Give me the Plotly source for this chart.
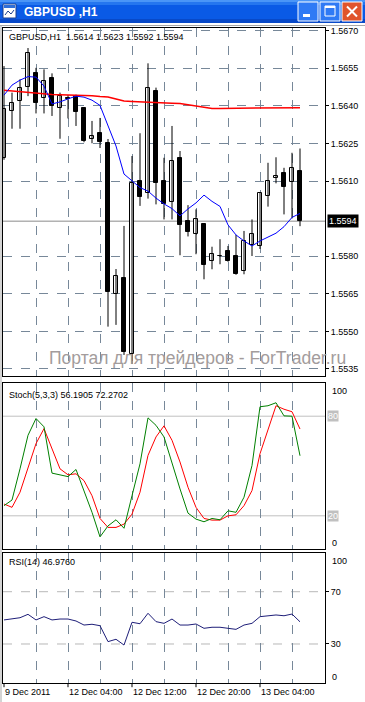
import plotly.graph_objects as go

# ---------------- data ----------------
opens  = [1.56191, 1.56378, 1.56418, 1.56477, 1.56530, 1.56431, 1.56510, 1.56390, 1.56432, 1.56441,
          1.56392, 1.56269, 1.56291, 1.56253, 1.55648, 1.55712, 1.55409, 1.56100, 1.56054, 1.56459,
          1.56100, 1.56018, 1.56191, 1.55941, 1.55888, 1.55928, 1.55781, 1.55802, 1.55821, 1.55801,
          1.55741, 1.55845, 1.55841, 1.56040, 1.56111, 1.56132, 1.56098, 1.5614]
highs  = [1.56559, 1.56453, 1.56506, 1.56631, 1.56552, 1.56546, 1.56530, 1.56453, 1.56443, 1.56445,
          1.56395, 1.56340, 1.56352, 1.56268, 1.55749, 1.55921, 1.56200, 1.56291, 1.56570, 1.56473,
          1.56193, 1.56320, 1.56220, 1.56004, 1.55987, 1.55930, 1.55838, 1.55868, 1.55841, 1.55885,
          1.55901, 1.55947, 1.56055, 1.56173, 1.56195, 1.56153, 1.56213, 1.5623]
lows   = [1.56185, 1.56309, 1.56309, 1.56439, 1.56370, 1.56370, 1.56360, 1.56269, 1.56350, 1.56320,
          1.56255, 1.56251, 1.56232, 1.55519, 1.55526, 1.55406, 1.55370, 1.56001, 1.56030, 1.56007,
          1.55947, 1.55947, 1.55804, 1.55879, 1.55808, 1.55708, 1.55748, 1.55768, 1.55778, 1.55726,
          1.55728, 1.55801, 1.55829, 1.55998, 1.56091, 1.55967, 1.55951, 1.5592]
closes = [1.56389, 1.56410, 1.56471, 1.56610, 1.56410, 1.56498, 1.56400, 1.56439, 1.56428, 1.56377,
          1.56259, 1.56279, 1.56257, 1.55659, 1.55721, 1.55419, 1.56092, 1.56038, 1.56473, 1.56094,
          1.56010, 1.56180, 1.55925, 1.55898, 1.55947, 1.55767, 1.55808, 1.55800, 1.55781, 1.55728,
          1.55861, 1.55888, 1.56051, 1.56100, 1.56120, 1.56078, 1.56153, 1.5594]

ma_slow = [1.56463, 1.56460, 1.56457, 1.56455, 1.56452, 1.56448, 1.56446, 1.56445, 1.56444, 1.56443,
           1.56443, 1.56441, 1.56438, 1.56436, 1.56428, 1.56420, 1.56418, 1.56416, 1.56415, 1.56414,
           1.56412, 1.56411, 1.56410, 1.56405, 1.56401, 1.56395, 1.56390, 1.56390, 1.56390, 1.56390,
           1.56390, 1.56390, 1.56390, 1.56390, 1.56392, 1.56393, 1.56393, 1.56393]
ma_fast = [1.56443, 1.56483, 1.56503, 1.56517, 1.56515, 1.56479, 1.56408, 1.56416, 1.56428, 1.56439,
           1.56435, 1.56423, 1.56402, 1.56320, 1.56240, 1.56128, 1.56100, 1.56074, 1.56060, 1.56032,
           1.56009, 1.55990, 1.55961, 1.55989, 1.56013, 1.56044, 1.56019, 1.55999, 1.55925, 1.55885,
           1.55861, 1.55841, 1.55861, 1.55878, 1.55892, 1.55918, 1.55955, 1.55971]

stoch_k = [26.1, 29.5, 48.3, 68.5, 78.6, 73.6, 45.7, 44.7, 43.6, 47.9, 35.2, 22.1, 7.3, 13.9, 17.6,
           12.5, 32.1, 51.3, 79.0, 74.5, 67.5, 51.3, 36.2, 21.6, 18.0, 16.4, 18.4, 17.6, 23.0, 22.1,
           31.2, 50.3, 85.7, 86.3, 88.1, 80.2, 80.0, 56.1905]
stoch_d = [27.1, 25.1, 34.2, 48.3, 63.5, 72.5, 60.4, 48.3, 44.7, 45.3, 41.2, 32.1, 18.4, 13.0, 13.0,
           15.0, 21.0, 34.2, 56.4, 67.5, 74.2, 65.5, 52.4, 37.2, 25.1, 18.4, 17.4, 17.4, 20.0, 20.6,
           26.1, 35.2, 57.4, 72.5, 86.3, 84.2, 82.7, 72.2702]
rsi = [48.4, 49.1, 50.1, 52.7, 48.4, 50.9, 48.4, 49.1, 49.1, 47.6, 44.5, 45.1, 44.0, 31.8, 33.6,
       29.2, 46.6, 45.5, 53.5, 47.1, 45.8, 49.1, 44.5, 44.5, 45.3, 42.0, 42.8, 42.8, 42.0, 41.2,
       44.5, 45.8, 50.9, 51.6, 52.2, 51.6, 52.9, 46.976]

time_labels = ["9 Dec 2011", "12 Dec 04:00", "12 Dec 12:00", "12 Dec 20:00", "13 Dec 04:00"]
time_label_bars = [0, 8, 16, 24, 32]
grid_bars = [4, 8, 12, 16, 20, 24, 28, 32, 36]
price_ticks = [1.5535, 1.5550, 1.5565, 1.5580, 1.5610, 1.5625, 1.5640, 1.5655, 1.5670]
last_price = 1.5594
stoch_levels = [80, 20]
rsi_levels = [70, 30]

# ---------------- layout helpers ----------------
W, H = 365, 702
def py(p):
    return 1 - p / H
def px(p):
    return p / W

bars = list(range(len(opens)))
GRID = "#778899"
FONT = "Liberation Sans"

fig = go.Figure()

# wicks
wx, wy = [], []
for i, (h, l) in enumerate(zip(highs, lows)):
    wx += [i, i, None]
    wy += [l, h, None]
fig.add_trace(go.Scatter(x=wx, y=wy, mode="lines", line=dict(color="black", width=1),
                         xaxis="x", yaxis="y", hoverinfo="skip", showlegend=False))
# bodies
base = [min(o, c) for o, c in zip(opens, closes)]
hgt = [max(abs(c - o), 0.000006) for o, c in zip(opens, closes)]
cols = ["white" if c >= o else "black" for o, c in zip(opens, closes)]
fig.add_trace(go.Bar(x=bars, y=hgt, base=base, width=0.5,
                     marker=dict(color=cols, line=dict(color="black", width=1)),
                     xaxis="x", yaxis="y", showlegend=False, hoverinfo="skip"))
# moving averages
fig.add_trace(go.Scatter(x=bars, y=ma_slow, mode="lines", line=dict(color="#FF0000", width=1.5),
                         xaxis="x", yaxis="y", showlegend=False))
fig.add_trace(go.Scatter(x=bars, y=ma_fast, mode="lines", line=dict(color="#0000FF", width=1),
                         xaxis="x", yaxis="y", showlegend=False))
# stochastic
fig.add_trace(go.Scatter(x=bars, y=stoch_d, mode="lines", line=dict(color="#FF0000", width=1),
                         xaxis="x2", yaxis="y2", showlegend=False))
fig.add_trace(go.Scatter(x=bars, y=stoch_k, mode="lines", line=dict(color="#008000", width=1),
                         xaxis="x2", yaxis="y2", showlegend=False))
# rsi
fig.add_trace(go.Scatter(x=bars, y=rsi, mode="lines", line=dict(color="#1E1E78", width=1),
                         xaxis="x3", yaxis="y3", showlegend=False))

xdom = [px(3), px(325)]
xrange = [-0.125, 40.125]
xcommon = dict(domain=xdom, range=xrange, tickmode="array", tickvals=grid_bars, showticklabels=False,
               showgrid=True, gridcolor=GRID, griddash="dash", gridwidth=1, zeroline=False,
               showline=True, mirror=True, linecolor="black", linewidth=1, ticks="", automargin=False)
ycommon = dict(showline=True, mirror=True, linecolor="black", linewidth=1, zeroline=False, side="right",
               automargin=False)

fig.update_layout(
    template="none",
    width=W, height=H, margin=dict(l=0, r=0, t=0, b=0, pad=0),
    paper_bgcolor="white", plot_bgcolor="white",
    font=dict(family=FONT, size=9, color="black"),
    bargap=0, barmode="overlay", showlegend=False,
    xaxis=dict(anchor="y", **xcommon),
    xaxis2=dict(anchor="y2", matches="x", **xcommon),
    xaxis3=dict(anchor="y3", matches="x", **xcommon),
    yaxis=dict(anchor="x", domain=[py(376), py(28)], range=[1.55322, 1.56711],
               tickmode="array", tickvals=price_ticks, ticktext=[f"{v:.4f}" for v in price_ticks],
               ticks="outside", ticklen=3, tickcolor="black",
               showgrid=True, gridcolor=GRID, griddash="dash", gridwidth=1, **ycommon),
    yaxis2=dict(anchor="x2", domain=[py(549), py(383)], range=[0, 100], showgrid=False,
                showticklabels=False, ticks="", **ycommon),
    yaxis3=dict(anchor="x3", domain=[py(683.2), py(552.5)], range=[0, 100], showgrid=False,
                tickmode="array", tickvals=rsi_levels, ticks="outside", ticklen=3, tickcolor="black",
                **ycommon),
)

shapes = []
ann = []

# current price line + label
shapes.append(dict(type="line", xref="x domain", yref="y", x0=0, x1=1, y0=last_price, y1=last_price,
                   line=dict(color="#8A8A8A", width=1), layer="below"))
ann.append(dict(xref="x domain", yref="y", x=1, y=last_price, xanchor="left", yanchor="middle",
                xshift=2, text=f"{last_price:.4f}", showarrow=False, bgcolor="black",
                font=dict(color="white", size=9, family=FONT), borderpad=1))

# stochastic levels
for lv in stoch_levels:
    shapes.append(dict(type="line", xref="x2 domain", yref="y2", x0=0, x1=1, y0=lv, y1=lv,
                       line=dict(color="#C0C0C0", width=1), layer="below"))
    ann.append(dict(xref="x2 domain", yref="y2", x=1, y=lv, xanchor="left", yanchor="middle", xshift=2,
                    text=str(lv), showarrow=False, bgcolor="#C0C0C0",
                    font=dict(color="white", size=9, family=FONT), borderpad=0))
for lv, sh in [(100, -8), (0, 6)]:
    ann.append(dict(xref="x2 domain", yref="y2", x=1, y=lv, xanchor="left", yanchor="middle",
                    xshift=5, yshift=sh, text=str(lv), showarrow=False))
    ann.append(dict(xref="x3 domain", yref="y3", x=1, y=lv, xanchor="left", yanchor="middle",
                    xshift=5, yshift=sh, text=str(lv), showarrow=False))

# rsi levels
for lv in rsi_levels:
    shapes.append(dict(type="line", xref="x3 domain", yref="y3", x0=0, x1=1, y0=lv, y1=lv,
                       line=dict(color="#B8B8B8", width=1, dash="dash"), layer="below"))

# time ticks and labels
for b, t in zip(time_label_bars, time_labels):
    shapes.append(dict(type="line", xref="x3", yref="y3 domain", ysizemode="pixel", yanchor=0,
                       x0=b, x1=b, y0=0, y1=-4, line=dict(color="black", width=1)))
    ann.append(dict(xref="x3", yref="paper", x=b, y=py(692), xanchor="left", yanchor="middle",
                    xshift=-1, text=t, showarrow=False))

# panel captions
ann.append(dict(xref="paper", yref="paper", x=px(7), y=py(37), xanchor="left", yanchor="middle",
                text="GBPUSD,H1  1.5614 1.5623 1.5592 1.5594", showarrow=False))
ann.append(dict(xref="paper", yref="paper", x=px(7), y=py(395), xanchor="left", yanchor="middle",
                text="Stoch(5,3,3) 56.1905 72.2702", showarrow=False))
ann.append(dict(xref="paper", yref="paper", x=px(7), y=py(562), xanchor="left", yanchor="middle",
                text="RSI(14) 46.9760", showarrow=False))
# watermark
ann.append(dict(xref="paper", yref="paper", x=px(47), y=py(358), xanchor="left", yanchor="middle",
                text="Портал для трейдеров - ForTrader.ru", showarrow=False,
                font=dict(size=17.5, color="#A39C9C", family=FONT)))

# window chrome
def rect(x0, y0, x1, y1, fill, line=None, lw=0):
    d = dict(type="rect", xref="paper", yref="paper", x0=px(x0), x1=px(x1), y0=py(y1), y1=py(y0),
             fillcolor=fill, layer="above")
    d["line"] = dict(color=line, width=lw) if line else dict(width=0)
    return d
def pline(x0, y0, x1, y1, color, w=1):
    return dict(type="line", xref="paper", yref="paper", x0=px(x0), x1=px(x1), y0=py(y0), y1=py(y1),
                line=dict(color=color, width=w), layer="above")

shapes += [
    rect(0, 0, 365, 23, "#0A5AE6"),
    rect(0, 0, 365, 2, "#4A95F7"),
    rect(0, 2, 365, 5, "#2576EF"),
    rect(0, 19, 365, 23, "#0849C8"),
    pline(0, 25.5, 365, 25.5, "#A8A8A8"),
    pline(1, 25, 1, 702, "#A8A8A8"),
    # icon
    rect(3, 4, 16, 18, "white", "#1A3E8C", 1),
    rect(4, 5, 15, 8, "#2F6FD8"),
    pline(5, 15, 8, 11, "#1A3E8C"), pline(8, 11, 11, 14, "#1A3E8C"), pline(11, 14, 14, 10, "#1A3E8C"),
    # minimize
    rect(298, 2, 318, 21, "#2F7AF5", "white", 1),
    rect(303, 14, 310, 17, "white"),
    # maximize
    rect(320, 2, 340, 21, "#2F7AF5", "white", 1),
    rect(325, 6, 335, 16, "rgba(0,0,0,0)", "white", 1),
    rect(325, 6, 335, 8, "white"),
    # close
    rect(342, 2, 362, 21, "#E0542C", "white", 1),
    pline(347, 6.5, 357, 16.5, "white", 2),
    pline(357, 6.5, 347, 16.5, "white", 2),
]
ann.append(dict(xref="paper", yref="paper", x=px(22), y=py(12), xanchor="left", yanchor="middle",
                text="<b>GBPUSD ,H1</b>", showarrow=False,
                font=dict(size=12, color="white", family=FONT)))

fig.update_layout(shapes=shapes, annotations=ann)
fig.write_html("out.html", config={"displayModeBar": False},
               post_script="document.body.style.margin='0px';document.body.style.padding='0px';")
